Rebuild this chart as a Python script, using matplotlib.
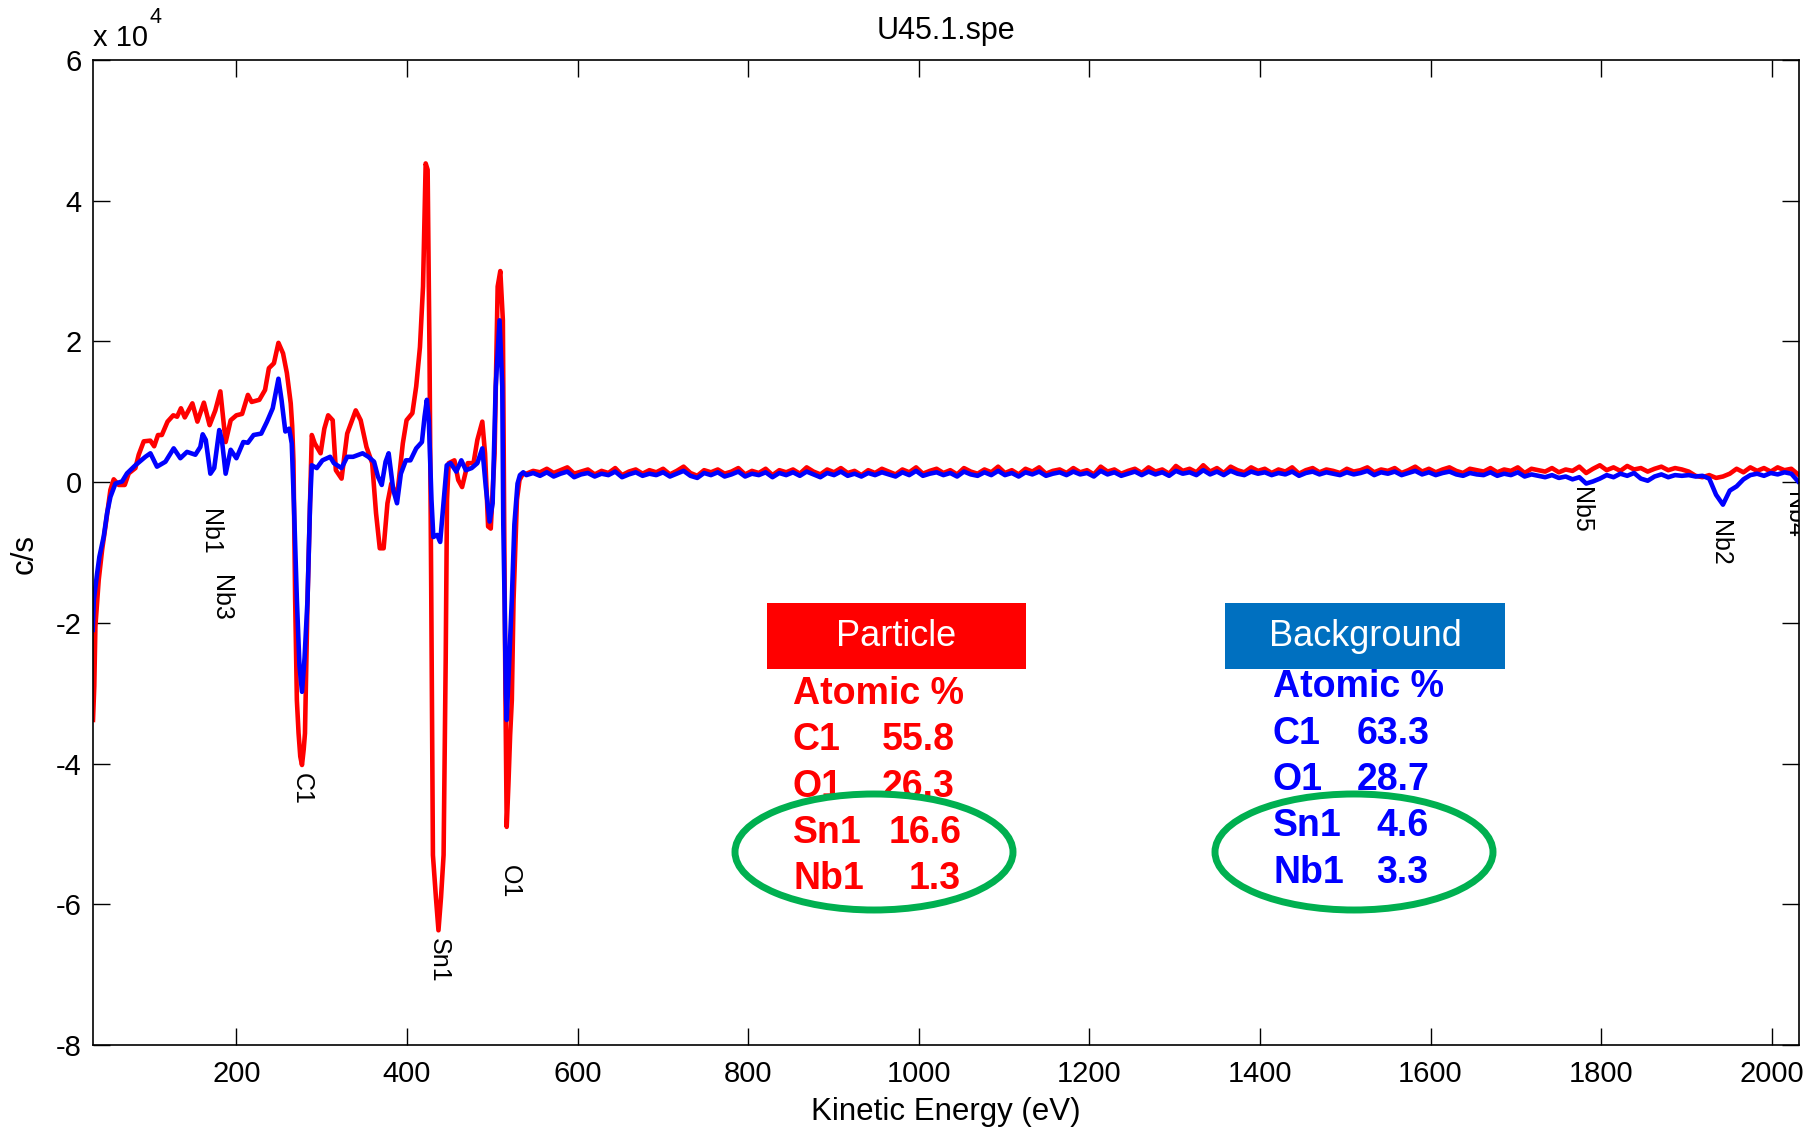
import numpy as np
import matplotlib
matplotlib.use('Agg')
import matplotlib.pyplot as plt
from matplotlib.patches import Ellipse, Rectangle

# ---------------- data (counts in units of 1e4 c/s) ----------------
red_energy_low = [32, 33.5, 34.8, 38.7, 42.7, 46.6, 49.7, 52.4, 56.3, 62.2, 69.2, 73.9, 81.7, 85.6, 91.5,
                  99.2, 103.7, 108.2, 112.7, 119.4, 126.1, 130.6, 135.1, 139.6, 148.5, 154.4, 162, 168.7, 175.4,
                  181.3, 187.5, 193.4, 200.1, 206.8, 213.6, 218, 227, 233.7, 238.2, 244.1, 249.4, 254.8, 259.3, 263.8,
                  265.5, 267, 269, 271, 273, 275, 277, 279, 280.5, 283.5, 286.5, 288.5,
                  292, 298.8, 303.2, 307.7, 313, 316.7, 323.4, 330, 334.6, 340, 345.8, 352.6, 359.3, 363.8, 368.2,
                  372.7, 377.2, 381.7, 388.4, 395.2, 399.6, 406.4, 410.9, 415.3, 418.9, 422, 424.3, 426.5, 428.5,
                  430.5, 434, 437, 440, 443, 445.5, 447, 449, 455.7, 460.2, 464.7, 471.4, 478.1, 482.6, 488.4,
                  491.6, 495.2, 498.3, 502.8, 506.4, 509.5, 512.5, 514, 515.5, 517, 519, 521, 523, 525, 529, 532, 536]
red_counts_low = [-3.38, -2.9, -2.05, -1.39, -0.96, -0.63, -0.35, -0.11, 0.04, -0.04, -0.04, 0.125, 0.20, 0.39, 0.58,
                  0.59, 0.51, 0.67, 0.67, 0.86, 0.95, 0.93, 1.05, 0.92, 1.12, 0.86, 1.13, 0.81, 1.02,
                  1.29, 0.57, 0.88, 0.95, 0.97, 1.24, 1.14, 1.17, 1.31, 1.62, 1.69, 1.98, 1.83, 1.55, 1.12,
                  0.8, 0.3, -1.67, -3.1, -3.57, -3.9, -4.02, -3.8, -3.57, -1.67, -0.25, 0.67,
                  0.55, 0.41, 0.76, 0.95, 0.88, 0.17, 0.05, 0.69, 0.84, 1.02, 0.88, 0.50, 0.27, -0.44, -0.94,
                  -0.94, -0.30, -0.02, -0.21, 0.55, 0.88, 0.98, 1.36, 1.92, 2.78, 4.53, 4.44, 1.83, -1.5,
                  -5.3, -5.9, -6.37, -5.9, -5.3, -2.5, -0.25, 0.27, 0.31, 0.03, -0.07, 0.27, 0.27, 0.60, 0.86,
                  0.41, -0.63, -0.66, 0.41, 2.78, 3.0, 2.3, -0.5, -3.0, -4.9, -4.3, -3.6, -3.1, -1.68, -0.25, 0.03, 0.12]

red_counts_flat = [0.12, 0.16, 0.14, 0.19, 0.13, 0.17, 0.21, 0.12, 0.15, 0.18,
                   0.11, 0.16, 0.13, 0.20, 0.10, 0.15, 0.18, 0.12, 0.17, 0.14,
                   0.19, 0.11, 0.16, 0.22, 0.13, 0.09, 0.17, 0.14, 0.18, 0.12,
                   0.15, 0.20, 0.11, 0.16, 0.13, 0.19, 0.10, 0.17, 0.14, 0.18,
                   0.12, 0.21, 0.15, 0.11, 0.18, 0.14, 0.20, 0.13, 0.16, 0.10,
                   0.17, 0.13, 0.19, 0.15, 0.11, 0.18, 0.14, 0.21, 0.12, 0.16,
                   0.19, 0.13, 0.17, 0.11, 0.20, 0.15, 0.12, 0.18, 0.14, 0.22,
                   0.13, 0.17, 0.11, 0.19, 0.15, 0.21, 0.12, 0.16, 0.18, 0.13,
                   0.20, 0.14, 0.17, 0.11, 0.22, 0.15, 0.18, 0.12, 0.16, 0.19,
                   0.13, 0.21, 0.15, 0.18, 0.12, 0.23, 0.16, 0.19, 0.14, 0.24,
                   0.15, 0.20, 0.13, 0.22, 0.17, 0.14, 0.21, 0.16, 0.19, 0.13,
                   0.18, 0.15, 0.21, 0.12, 0.17, 0.20, 0.14, 0.18, 0.16, 0.13,
                   0.19, 0.15, 0.17, 0.21, 0.14, 0.18, 0.16, 0.20, 0.13, 0.17,
                   0.22, 0.15, 0.19, 0.14, 0.18, 0.21, 0.16, 0.13, 0.19, 0.17,
                   0.15, 0.20, 0.14, 0.18, 0.16, 0.21, 0.13, 0.19, 0.17, 0.15,
                   0.20, 0.14, 0.18, 0.16, 0.22, 0.13, 0.19, 0.24, 0.17, 0.21,
                   0.16, 0.23, 0.18, 0.20, 0.15, 0.19, 0.22, 0.17, 0.20, 0.18,
                   0.15, 0.09, 0.07, 0.10, 0.06, 0.08, 0.12, 0.19, 0.14, 0.21,
                   0.16, 0.20, 0.15, 0.21, 0.17, 0.19, 0.11]

blue_energy_low = [31.7, 33, 36.8, 39.5, 44.6, 48.5, 52.4, 58.3, 66.1, 71.9, 81.7, 93.4, 99.3, 107, 116.9,
                   126.6, 134.4, 142.2, 152, 157.8, 160.6, 164.2, 169.6, 174.1, 180, 183.1, 187.5, 193.4, 200.1,
                   208.2, 213.6, 220.3, 229.2, 236, 242.7, 249.4, 253, 257.5, 262, 265, 267.5, 271, 274, 277, 280,
                   283.5, 286.5, 288.5, 294.3, 301, 310, 314.4, 323.4, 330, 336.9, 341.4, 348.1, 354.8, 361.5, 366,
                   370.5, 375, 378.6, 384, 388.4, 392.9, 398.8, 404.1, 410.9, 417.6, 420.7, 423.4, 425.7, 428.8,
                   431, 435.5, 439, 442.2, 446.7, 451.2, 457.9, 463.8, 469.1, 475.9, 482.6, 488.4, 492.5, 497,
                   500.5, 504.1, 508.6, 511.8, 513, 514.5, 516, 517, 519, 521, 523, 526, 529.7, 532.5, 536.4]
blue_counts_low = [-2.10, -1.67, -1.30, -1.06, -0.77, -0.44, -0.21, -0.02, 0.01, 0.125, 0.24, 0.36, 0.41, 0.22, 0.29,
                   0.48, 0.34, 0.43, 0.39, 0.50, 0.68, 0.60, 0.12, 0.20, 0.74, 0.60, 0.12, 0.46, 0.34,
                   0.57, 0.56, 0.67, 0.69, 0.86, 1.05, 1.47, 1.17, 0.72, 0.76, 0.55, -0.3, -1.67, -2.6, -2.98, -2.5,
                   -1.67, -0.3, 0.24, 0.20, 0.31, 0.36, 0.27, 0.20, 0.36, 0.36, 0.38, 0.41, 0.36, 0.29, 0.08,
                   -0.04, 0.29, 0.41, -0.11, -0.30, 0.12, 0.31, 0.31, 0.48, 0.57, 0.93, 1.17, 0.88, -0.25,
                   -0.78, -0.75, -0.85, -0.40, 0.24, 0.27, 0.15, 0.31, 0.17, 0.20, 0.27, 0.48, -0.07, -0.56,
                   -0.30, 1.36, 2.30, 1.36, -0.6, -1.67, -3.0, -3.38, -2.8, -2.2, -1.67, -0.6, -0.02, 0.10, 0.14]

blue_counts_flat = [0.10, 0.13, 0.09, 0.14, 0.08, 0.12, 0.15, 0.07, 0.11, 0.13,
                    0.08, 0.12, 0.10, 0.15, 0.07, 0.11, 0.14, 0.09, 0.12, 0.10,
                    0.14, 0.08, 0.12, 0.16, 0.09, 0.06, 0.13, 0.10, 0.14, 0.08,
                    0.11, 0.15, 0.08, 0.12, 0.10, 0.14, 0.07, 0.13, 0.10, 0.14,
                    0.09, 0.15, 0.11, 0.07, 0.13, 0.10, 0.15, 0.09, 0.12, 0.08,
                    0.13, 0.10, 0.14, 0.11, 0.08, 0.14, 0.10, 0.16, 0.09, 0.12,
                    0.14, 0.10, 0.13, 0.08, 0.15, 0.11, 0.09, 0.14, 0.10, 0.16,
                    0.10, 0.13, 0.08, 0.14, 0.11, 0.15, 0.09, 0.12, 0.14, 0.10,
                    0.15, 0.11, 0.13, 0.08, 0.16, 0.11, 0.14, 0.09, 0.12, 0.15,
                    0.10, 0.15, 0.11, 0.14, 0.09, 0.16, 0.12, 0.14, 0.10, 0.17,
                    0.11, 0.15, 0.10, 0.16, 0.12, 0.10, 0.15, 0.12, 0.14, 0.10,
                    0.13, 0.11, 0.15, 0.09, 0.13, 0.15, 0.11, 0.14, 0.12, 0.10,
                    0.14, 0.11, 0.13, 0.16, 0.10, 0.14, 0.12, 0.15, 0.10, 0.13,
                    0.16, 0.11, 0.14, 0.10, 0.13, 0.15, 0.11, 0.09, 0.13, 0.11,
                    0.10, 0.14, 0.09, 0.12, 0.10, 0.14, 0.08, 0.11, 0.09, 0.07,
                    0.10, 0.06, 0.08, 0.04, 0.07, -0.02, 0.01, 0.05, 0.10, 0.07,
                    0.12, 0.09, 0.13, 0.05, 0.02, 0.08, 0.11, 0.07, 0.10, 0.09,
                    0.10, 0.08, 0.09, 0.05, -0.18, -0.32, -0.12, -0.06, 0.04, 0.10,
                    0.12, 0.09, 0.13, 0.11, 0.14, 0.12, 0.01]
flat_start, flat_end = 540, 2031

peak_names = ['Nb1', 'Nb3', 'C1', 'Sn1', 'O1', 'Nb5', 'Nb2', 'Nb4']
peak_energy = [169, 182.5, 277, 437, 521, 1777, 1939, 2026]
peak_label_top = [-0.38, -1.32, -4.13, -6.48, -5.44, -0.07, -0.54, -0.14]

x_ticks = [200, 400, 600, 800, 1000, 1200, 1400, 1600, 1800, 2000]
y_ticks = [-8, -6, -4, -2, 0, 2, 4, 6]

particle_elements = ['C1', 'O1', 'Sn1', 'Nb1']
particle_atomic = ['55.8', '26.3', '16.6', '1.3']
background_elements = ['C1', 'O1', 'Sn1', 'Nb1']
background_atomic = ['63.3', '28.7', '4.6', '3.3']

# ---------------- figure ----------------
plt.rcParams['axes.unicode_minus'] = False
plt.rcParams['font.family'] = ['Liberation Sans', 'DejaVu Sans']

W, H = 1816, 1131
fig = plt.figure(figsize=(W / 100, H / 100), dpi=100)


def fx(px):
    return px / W


def fy(py):
    return 1 - py / H


ax = fig.add_axes([fx(93), fy(1045), (1799 - 93) / W, (1045 - 60) / H])

red_E = list(red_energy_low) + list(np.linspace(flat_start, flat_end, len(red_counts_flat)))
red_V = list(red_counts_low) + list(red_counts_flat)
blue_E = list(blue_energy_low) + list(np.linspace(flat_start, flat_end, len(blue_counts_flat)))
blue_V = list(blue_counts_low) + list(blue_counts_flat)

ax.plot(red_E, red_V, color='#FF0000', lw=3.3, solid_joinstyle='round')
ax.plot(blue_E, blue_V, color='#0000FF', lw=3.3, solid_joinstyle='round')

ax.set_xlim(32, 2032)
ax.set_ylim(-8, 6)
ax.set_xticks(x_ticks)
ax.set_xticklabels([str(t) for t in x_ticks])
ax.set_yticks(y_ticks)
ax.set_yticklabels([str(t) for t in y_ticks])
ax.tick_params(direction='in', length=12, width=1.0, top=True, right=True, labelsize=21)
ax.tick_params(axis='x', pad=11)
ax.tick_params(axis='y', pad=8)
for s in ax.spines.values():
    s.set_linewidth(1.2)

for name, e, top in zip(peak_names, peak_energy, peak_label_top):
    ax.text(e, top, name, rotation=-90, ha='center', va='top', fontsize=18,
            clip_on=True)

# titles / labels
fig.text(fx(946), fy(31), 'U45.1.spe', ha='center', va='center', fontsize=22)
fig.text(fx(93), fy(46), 'x 10', ha='left', va='baseline', fontsize=21)
fig.text(fx(150), fy(23), '4', ha='left', va='baseline', fontsize=15.5)
fig.text(fx(946), fy(1112), 'Kinetic Energy (eV)', ha='center', va='center', fontsize=22.5)
fig.text(fx(25), fy(554), 'c/s', rotation=90, ha='center', va='center', fontsize=22.5)

# annotation boxes
fig.add_artist(Rectangle((fx(767), fy(669)), (1026 - 767) / W, (669 - 603) / H,
                         transform=fig.transFigure, facecolor='#FF0000', edgecolor='none', zorder=3))
fig.text(fx(896), fy(637), 'Particle', ha='center', va='center', color='white',
         fontsize=26, zorder=4)
fig.add_artist(Rectangle((fx(1225), fy(669)), (1505 - 1225) / W, (669 - 603) / H,
                         transform=fig.transFigure, facecolor='#0070C0', edgecolor='none', zorder=3))
fig.text(fx(1365), fy(637), 'Background', ha='center', va='center', color='white',
         fontsize=26, zorder=4)

# particle stats
fig.text(fx(793), fy(704), 'Atomic %', ha='left', va='baseline', color='#FF0000',
         fontsize=27, fontweight='bold', zorder=4)
p_base = [750, 797, 843, 889]
p_val_x = [882, 882, 889, 909]
for el, val, yb, xv in zip(particle_elements, particle_atomic, p_base, p_val_x):
    fig.text(fx(793), fy(yb), el, ha='left', va='baseline', color='#FF0000',
             fontsize=27, fontweight='bold', zorder=4)
    fig.text(fx(xv), fy(yb), val, ha='left', va='baseline', color='#FF0000',
             fontsize=27, fontweight='bold', zorder=4)

# background stats
fig.text(fx(1273), fy(697), 'Atomic %', ha='left', va='baseline', color='#0000FF',
         fontsize=27, fontweight='bold', zorder=4)
b_base = [744, 790, 836, 883]
b_val_x = [1357, 1357, 1376, 1376]
for el, val, yb, xv in zip(background_elements, background_atomic, b_base, b_val_x):
    fig.text(fx(1273), fy(yb), el, ha='left', va='baseline', color='#0000FF',
             fontsize=27, fontweight='bold', zorder=4)
    fig.text(fx(xv), fy(yb), val, ha='left', va='baseline', color='#0000FF',
             fontsize=27, fontweight='bold', zorder=4)

# green ellipses
for cx in (874, 1354):
    fig.add_artist(Ellipse((fx(cx), fy(852)), 278 / W, 116 / H, transform=fig.transFigure,
                           fill=False, edgecolor='#00B050', lw=5, zorder=5))

fig.savefig('out.png', dpi=100)
